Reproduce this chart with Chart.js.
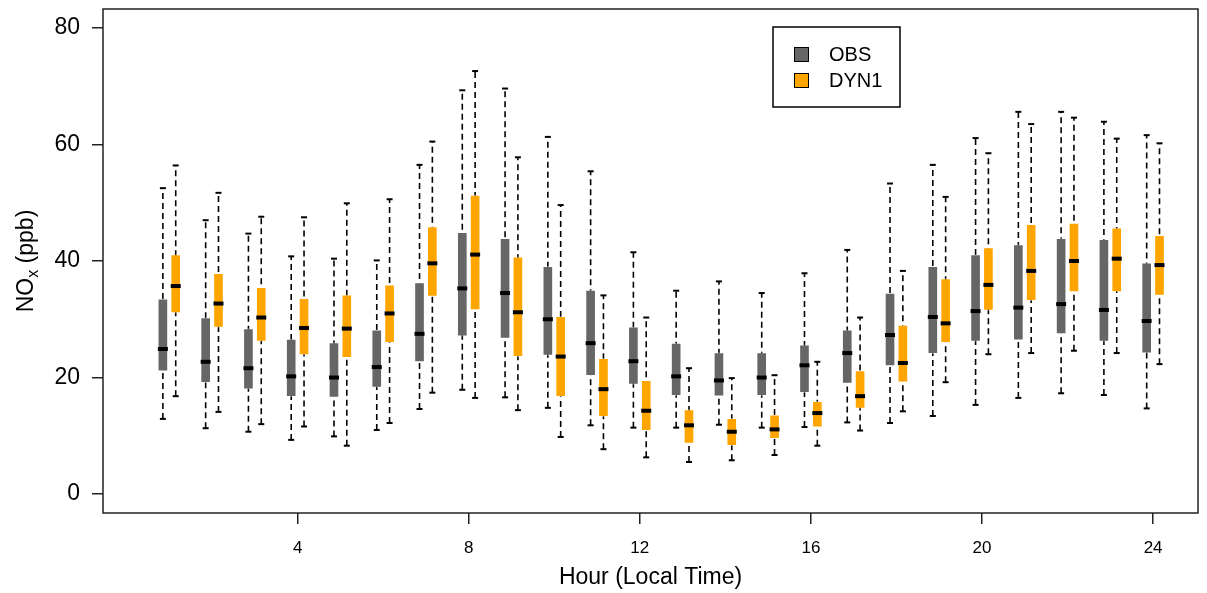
<!DOCTYPE html>
<html>
<head>
<meta charset="utf-8">
<script src="https://cdn.jsdelivr.net/npm/chart.js@4.4.1/dist/chart.umd.min.js"></script>
<style>
  body { margin: 0; background: #fff; }
  #wrap { width: 1207px; height: 593px; }
</style>
</head>
<body>
<div id="wrap"><canvas id="chart"></canvas></div>
<script>
// hourly NOx distributions
const hours = [1, 2, 3, 4, 5, 6, 7, 8, 9, 10, 11, 12, 13, 14, 15, 16, 17, 18, 19, 20, 21, 22, 23, 24];

const obsMin = [12.9, 11.3, 10.7, 9.3, 9.9, 11.0, 14.6, 17.9, 16.6, 14.8, 11.8, 11.4, 11.4, 11.9, 11.4, 11.5, 12.3, 12.2, 13.4, 15.3, 16.5, 17.3, 17.0, 14.7];
const obsQ1  = [21.1, 19.1, 18.0, 16.7, 16.6, 18.3, 22.7, 27.1, 26.7, 23.8, 20.3, 18.8, 16.9, 16.8, 16.9, 17.4, 19.0, 22.0, 24.1, 26.2, 26.4, 27.5, 26.2, 24.2];
const obsMed = [24.9, 22.7, 21.6, 20.2, 20.0, 21.8, 27.5, 35.3, 34.5, 30.0, 25.9, 22.8, 20.2, 19.5, 20.0, 22.1, 24.2, 27.3, 30.4, 31.4, 32.0, 32.6, 31.6, 29.7];
const obsQ3  = [33.5, 30.3, 28.4, 26.6, 26.0, 28.2, 36.3, 44.9, 43.9, 39.1, 35.0, 28.7, 25.9, 24.3, 24.3, 25.6, 28.2, 34.5, 39.1, 41.1, 42.8, 43.9, 43.7, 39.7];
const obsMax = [52.5, 47.0, 44.7, 40.8, 40.4, 40.1, 56.5, 69.3, 69.6, 61.3, 55.4, 41.5, 34.9, 36.5, 34.5, 37.9, 41.9, 53.3, 56.5, 61.1, 65.6, 65.6, 63.9, 61.6];

const dynMin = [16.8, 14.1, 12.0, 11.6, 8.3, 12.2, 17.4, 16.5, 14.4, 9.8, 7.7, 6.3, 5.5, 5.8, 6.7, 8.3, 10.9, 14.2, 19.2, 24.0, 24.2, 24.6, 24.2, 22.3];
const dynQ1  = [31.1, 28.6, 26.2, 23.9, 23.4, 26.0, 33.9, 31.6, 23.6, 16.7, 13.3, 10.9, 8.7, 8.3, 9.5, 11.5, 14.7, 19.2, 26.0, 31.5, 33.2, 34.7, 34.7, 34.1];
const dynMed = [35.7, 32.7, 30.3, 28.5, 28.4, 31.0, 39.6, 41.1, 31.2, 23.6, 18.0, 14.3, 11.8, 10.7, 11.1, 13.9, 16.8, 22.5, 29.3, 35.9, 38.3, 40.0, 40.4, 39.3];
const dynQ3  = [41.1, 37.9, 35.5, 33.6, 34.2, 35.9, 45.9, 51.3, 40.7, 30.5, 23.3, 19.5, 14.5, 13.0, 13.6, 15.9, 21.2, 29.0, 37.0, 42.3, 46.3, 46.5, 45.7, 44.4];
const dynMax = [56.4, 51.7, 47.6, 47.5, 49.9, 50.6, 60.5, 72.6, 57.8, 49.6, 34.1, 30.3, 21.6, 19.9, 20.4, 22.7, 30.3, 38.3, 51.0, 58.5, 63.5, 64.6, 61.0, 60.2];

const seriesNames = ['OBS', 'DYN1'];
const seriesColors = ['#666666', '#FFA500'];
const xTicks = [4, 8, 12, 16, 20, 24];
const yTicks = [0, 20, 40, 60, 80];

const FONT = "'Liberation Sans', Arial, Helvetica, sans-serif";
const SHIFT = 0.15;   // side-by-side offset of the two boxes within an hour
const FRAME_LEFT = 103;
const FRAME_BOTTOM = 513;

function boxDatasets(name, color, shift, lo, q1, med, q3, hi) {
    const pos = hours.map(h => h + shift);
    const whisk = [];
    const caps = [];
    pos.forEach((x, i) => {
        whisk.push({ x: x, y: lo[i] }, { x: x, y: hi[i] }, { x: x, y: null });
        caps.push({ x: x, y: lo[i] }, { x: x, y: hi[i] });
    });
    return [
        {
            type: 'line', label: name + ' whisker', data: whisk,
            borderColor: '#000', borderWidth: 1.6, borderDash: [6, 4],
            pointRadius: 0, spanGaps: false, fill: false, order: 4
        },
        {
            type: 'scatter', label: name + ' cap', data: caps,
            pointStyle: 'line', pointRadius: 3, pointBorderWidth: 2,
            pointBorderColor: '#000', order: 3
        },
        {
            type: 'bar', label: name,
            data: pos.map((x, i) => ({ x: x, y: [q1[i], q3[i]] })),
            backgroundColor: color, borderColor: 'rgba(255,255,255,0.35)',
            borderWidth: 1, borderSkipped: false, barThickness: 10,
            grouped: false, order: 2
        },
        {
            type: 'scatter', label: name + ' median',
            data: pos.map((x, i) => ({ x: x, y: med[i] })),
            pointStyle: 'line', pointRadius: 5, pointBorderWidth: 4,
            pointBorderColor: '#000', order: 1
        }
    ];
}

const framePlugin = {
    id: 'frame',
    afterDraw(chart) {
        const { ctx, chartArea: a } = chart;
        ctx.save();
        ctx.strokeStyle = '#222';
        ctx.lineWidth = 1.5;
        ctx.strokeRect(a.left, a.top, a.right - a.left, a.bottom - a.top);

        // y axis title with subscript x
        const cy = (a.top + a.bottom) / 2;
        ctx.translate(33, cy);
        ctx.rotate(-Math.PI / 2);
        ctx.fillStyle = '#000';
        ctx.textBaseline = 'alphabetic';
        ctx.textAlign = 'left';
        const big = '23px ' + FONT, small = '16px ' + FONT;
        ctx.font = big;
        const w1 = ctx.measureText('NO').width;
        const w3 = ctx.measureText(' (ppb)').width;
        ctx.font = small;
        const w2 = ctx.measureText('x').width;
        let x0 = -(w1 + w2 + w3) / 2;
        ctx.font = big;
        ctx.fillText('NO', x0, 0);
        ctx.font = small;
        ctx.fillText('x', x0 + w1, 5);
        ctx.font = big;
        ctx.fillText(' (ppb)', x0 + w1 + w2, 0);
        ctx.restore();

        // legend
        ctx.save();
        const lx = 773, ly = 27, lw = 127, lh = 80;
        ctx.strokeStyle = '#000';
        ctx.lineWidth = 1.5;
        ctx.strokeRect(lx, ly, lw, lh);
        ctx.font = '20px ' + FONT;
        ctx.textBaseline = 'middle';
        ctx.fillStyle = '#000';
        seriesNames.forEach((n, i) => {
            const y = ly + 27 + i * 26;
            ctx.fillStyle = seriesColors[i];
            ctx.fillRect(794, y - 7, 14, 14);
            ctx.lineWidth = 1;
            ctx.strokeRect(794.5, y - 6.5, 14, 14);
            ctx.fillStyle = '#000';
            ctx.fillText(n, 829, y + 1);
        });
        ctx.restore();
    }
};

const datasets = [].concat(
    boxDatasets(seriesNames[0], seriesColors[0], -SHIFT, obsMin, obsQ1, obsMed, obsQ3, obsMax),
    boxDatasets(seriesNames[1], seriesColors[1], SHIFT, dynMin, dynQ1, dynMed, dynQ3, dynMax)
);

new Chart(document.getElementById('chart'), {
    type: 'bar',
    data: { datasets: datasets },
    options: {
        responsive: true,
        maintainAspectRatio: false,
        animation: false,
        events: [],
        layout: { padding: { top: 8, right: 9, bottom: 0, left: 0 } },
        plugins: {
            legend: { display: false },
            tooltip: { enabled: false }
        },
        scales: {
            x: {
                type: 'linear',
                min: -0.55,
                max: 25.05,
                offset: false,
                grid: { drawOnChartArea: false, offset: false, tickLength: 11, color: '#222', lineWidth: 1.5 },
                border: { display: false },
                afterBuildTicks: s => { s.ticks = xTicks.map(v => ({ value: v })); },
                afterFit: s => { s.height = 593 - FRAME_BOTTOM; s.paddingLeft = 0; s.paddingRight = 0; },
                ticks: {
                    font: { family: FONT, size: 17 }, color: '#000',
                    padding: 14, autoSkip: false, maxRotation: 0
                },
                title: {
                    display: true, text: 'Hour (Local Time)', color: '#000',
                    font: { family: FONT, size: 23 }, padding: { top: 0, bottom: 2 }
                }
            },
            y: {
                type: 'linear',
                min: -3.25,
                max: 83.25,
                beginAtZero: false,
                grid: { drawOnChartArea: false, tickLength: 11, color: '#222', lineWidth: 1.5 },
                border: { display: false },
                afterBuildTicks: s => { s.ticks = yTicks.map(v => ({ value: v })); },
                afterFit: s => { s.width = FRAME_LEFT; s.paddingTop = 0; s.paddingBottom = 0; },
                ticks: { font: { family: FONT, size: 23 }, color: '#000', padding: 12 }
            }
        }
    },
    plugins: [framePlugin]
});
</script>
</body>
</html>
